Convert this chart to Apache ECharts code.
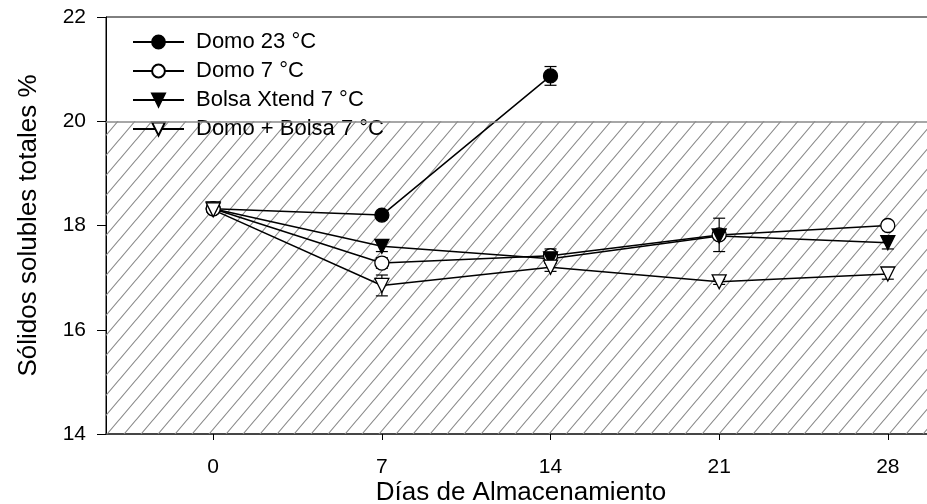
<!DOCTYPE html>
<html>
<head>
<meta charset="utf-8">
<script src="https://cdn.jsdelivr.net/npm/echarts@6/dist/echarts.min.js"></script>
<style>
  html, body { margin: 0; padding: 0; background: #fff; }
  #chart { width: 927px; height: 504px; }
</style>
</head>
<body>
<div id="chart"></div>
<script>
// Storage day for each measurement
const days = [0, 7, 14, 21, 28];
const dayTicks = [0, 7, 14, 21, 28];

// Total soluble solids (%) per treatment
const domo23 = [18.32, 18.20, 20.87, null, null];
const domo7 = [18.32, 17.28, 17.42, 17.82, 18.00];
const bolsa7 = [18.32, 17.60, 17.36, 17.80, 17.67];
const domoBolsa7 = [18.30, 16.85, 17.20, 16.92, 17.07];

// Standard error per point
const domo23Err = [0.05, 0.05, 0.18, null, null];
const domo7Err = [0.05, 0.10, 0.13, 0.32, 0.05];
const bolsa7Err = [0.05, 0.10, 0.08, 0.05, 0.12];
const domoBolsa7Err = [0.05, 0.20, 0.08, 0.05, 0.10];

const names = ['Domo 23 °C', 'Domo 7 °C', 'Bolsa Xtend 7 °C', 'Domo + Bolsa 7 °C'];

// Reference band limits (% SST)
const bandLow = 14;
const bandHigh = 20;

const FONT = '"Liberation Sans", Arial, sans-serif';

// Diagonal hatch tile for the reference band
function hatchTile() {
  const w = 17, h = 20;
  const c = document.createElement('canvas');
  c.width = w; c.height = h;
  const ctx = c.getContext('2d');
  ctx.strokeStyle = '#8a8a8a';
  ctx.lineWidth = 1.1;
  ctx.beginPath();
  ctx.moveTo(-w, 2 * h); ctx.lineTo(2 * w, -h);
  ctx.moveTo(-2 * w, 2 * h); ctx.lineTo(w, -h);
  ctx.moveTo(0, 2 * h); ctx.lineTo(3 * w, -h);
  ctx.stroke();
  return c;
}

function pairs(vals) {
  return days.map((d, i) => [d, vals[i]]);
}

function errRows(vals, errs) {
  const rows = [];
  days.forEach((d, i) => {
    if (vals[i] != null && errs[i] != null) rows.push([d, vals[i] - errs[i], vals[i] + errs[i]]);
  });
  return rows;
}

function errorSeries(vals, errs) {
  return {
    type: 'custom',
    silent: true,
    z: 2,
    data: errRows(vals, errs),
    renderItem: function (params, api) {
      const x = api.value(0);
      const lo = api.coord([x, api.value(1)]);
      const hi = api.coord([x, api.value(2)]);
      const cap = 6;
      const st = { stroke: '#000', lineWidth: 1.2 };
      return {
        type: 'group',
        children: [
          { type: 'line', shape: { x1: lo[0], y1: lo[1], x2: hi[0], y2: hi[1] }, style: st },
          { type: 'line', shape: { x1: lo[0] - cap, y1: lo[1], x2: lo[0] + cap, y2: lo[1] }, style: st },
          { type: 'line', shape: { x1: hi[0] - cap, y1: hi[1], x2: hi[0] + cap, y2: hi[1] }, style: st }
        ]
      };
    }
  };
}

function lineSeries(name, vals, symbol, rotate, fill) {
  return {
    name: name,
    type: 'line',
    z: 4,
    data: pairs(vals),
    symbol: symbol,
    symbolRotate: rotate,
    symbolSize: 14,
    showAllSymbol: true,
    connectNulls: false,
    lineStyle: { color: '#000', width: 1.5 },
    itemStyle: { color: fill, borderColor: '#000', borderWidth: 1.3, opacity: 1 },
    emphasis: { disabled: true }
  };
}

const chart = echarts.init(document.getElementById('chart'), null, { renderer: 'canvas' });

const s1 = lineSeries(names[0], domo23, 'circle', 0, '#000');
s1.markArea = {
  silent: true,
  itemStyle: { color: { image: hatchTile(), repeat: 'repeat' }, borderWidth: 0 },
  data: [[{ yAxis: bandLow }, { yAxis: bandHigh }]]
};
s1.markLine = {
  silent: true,
  symbol: 'none',
  label: { show: false },
  lineStyle: { color: '#8a8a8a', type: 'solid', width: 1.5 },
  data: [{ yAxis: bandHigh }]
};

chart.setOption({
  animation: false,
  backgroundColor: '#fff',
  textStyle: { fontFamily: FONT },
  grid: {
    left: 106, top: 17, width: 830, height: 417,
    outerBoundsMode: 'none',
    containLabel: false,
    show: true, borderColor: '#000', borderWidth: 1, backgroundColor: 'transparent'
  },
  legend: {
    orient: 'vertical',
    left: 132, top: 31, padding: 0,
    itemWidth: 51, itemHeight: 16, itemGap: 7,
    inactiveColor: '#000',
    selectedMode: false,
    data: names,
    textStyle: { fontFamily: FONT, fontSize: 22, color: '#000', padding: [0, 0, 0, 7], lineHeight: 21 }
  },
  xAxis: {
    type: 'value',
    min: -4.45, max: 30,
    name: 'Días de Almacenamiento',
    nameLocation: 'middle',
    nameGap: 46,
    nameMoveOverlap: false,
    nameTextStyle: { fontFamily: FONT, fontSize: 26, color: '#000' },
    axisLine: { show: true, onZero: false, lineStyle: { color: '#333', width: 1.5 } },
    axisTick: { show: true, inside: false, length: 6, customValues: dayTicks, lineStyle: { color: '#000' } },
    axisLabel: { customValues: dayTicks, fontFamily: FONT, fontSize: 21, color: '#000', margin: 23 },
    splitLine: { show: false }
  },
  yAxis: {
    type: 'value',
    min: 14, max: 22, interval: 2,
    name: 'Sólidos solubles totales %',
    nameLocation: 'middle',
    nameRotate: 90,
    nameGap: 64,
    nameMoveOverlap: false,
    nameTextStyle: { fontFamily: FONT, fontSize: 26, color: '#000' },
    axisLine: { show: true, onZero: false, lineStyle: { color: '#000', width: 1 } },
    axisTick: { show: true, inside: false, length: 9, lineStyle: { color: '#000' } },
    axisLabel: { fontFamily: FONT, fontSize: 21, color: '#000', margin: 20 },
    splitLine: { show: false }
  },
  series: [
    errorSeries(domo23, domo23Err),
    errorSeries(domo7, domo7Err),
    errorSeries(bolsa7, bolsa7Err),
    errorSeries(domoBolsa7, domoBolsa7Err),
    s1,
    lineSeries(names[1], domo7, 'circle', 0, '#fff'),
    lineSeries(names[2], bolsa7, 'triangle', 180, '#000'),
    lineSeries(names[3], domoBolsa7, 'triangle', 180, '#fff')
  ]
});
</script>
</body>
</html>
